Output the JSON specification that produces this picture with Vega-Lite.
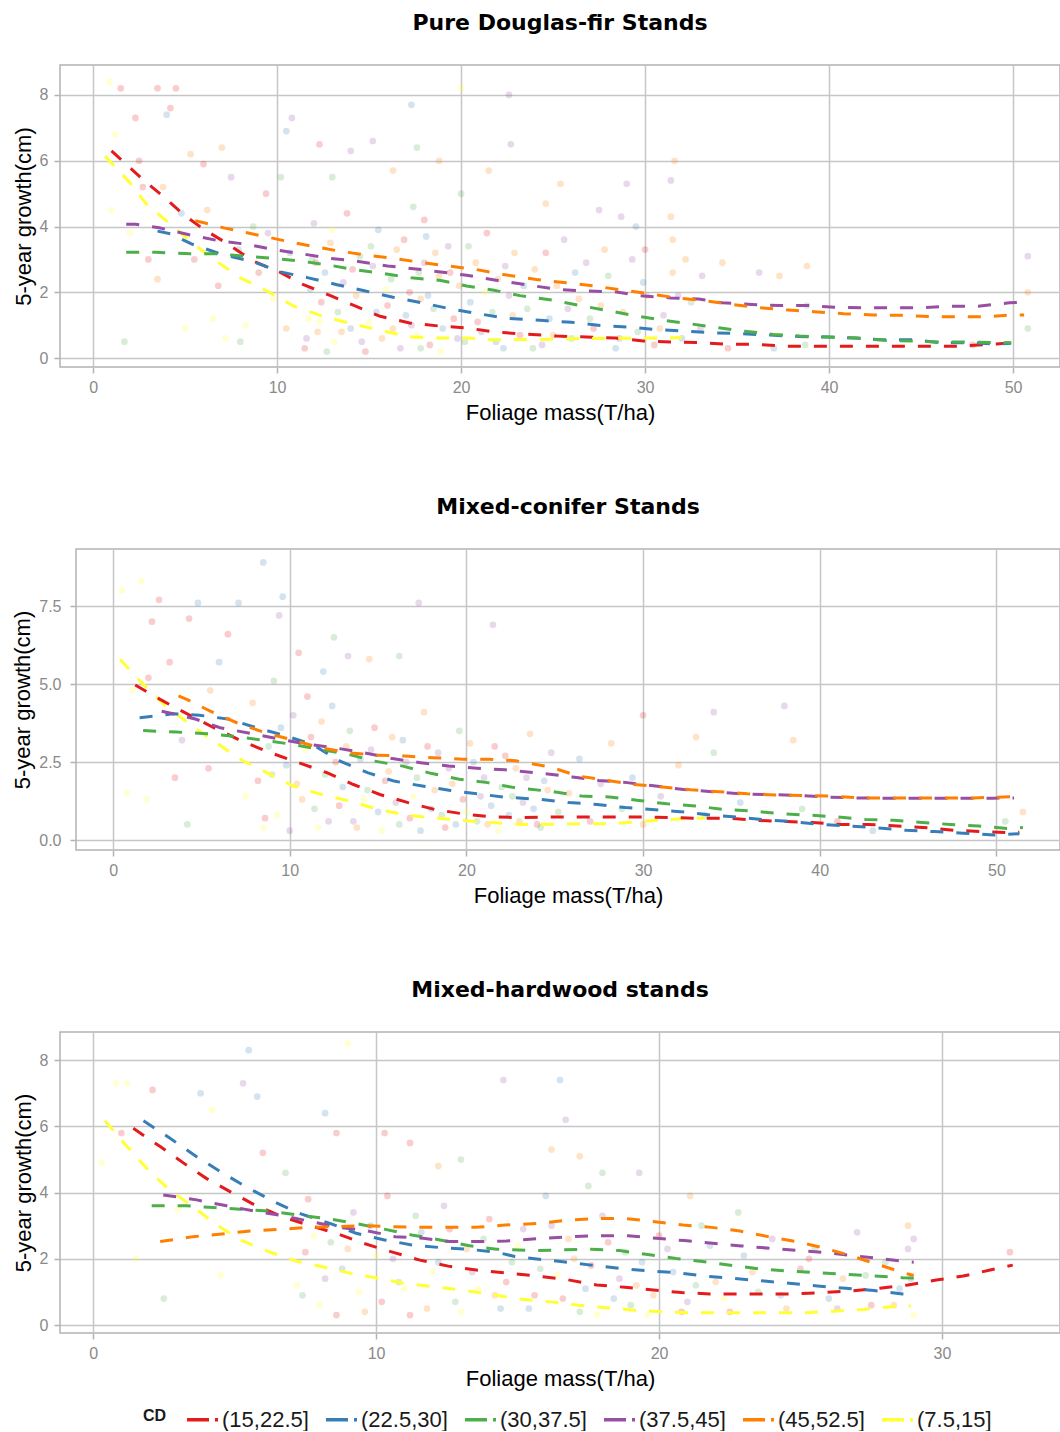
{
  "$schema": "https://vega.github.io/schema/vega-lite/v6.json",
  "padding": {"left": 10, "top": 11, "right": 0, "bottom": 0},
  "background": "white",
  "spacing": 71,
  "config": {
    "font": "Liberation Sans",
    "view": {"stroke": "#b3b3b3", "strokeWidth": 1.5},
    "axis": {
      "grid": true, "gridColor": "#c6c6c6", "gridWidth": 1.5, "domain": false,
      "tickColor": "#b3b3b3", "tickSize": 6, "tickWidth": 1.5,
      "labelColor": "#8a8a8a", "labelFontSize": 16, "labelPadding": 6, "labelFont": "Liberation Sans",
      "titleColor": "#000000", "titleFontSize": 22, "titleFontWeight": "normal", "titlePadding": 4, "titleFont": "Liberation Sans"
    },
    "axisX": {"titlePadding": 7},
    "title": {"font": "DejaVu Sans", "fontSize": 22, "fontWeight": "bold", "anchor": "middle", "frame": "group", "offset": 30, "baseline": "alphabetic", "color": "#000000"}
  },
  "resolve": {"scale": {"color": "shared"}, "legend": {"color": "shared"}},
  "datasets": {
    "S": [{"t": ""}],
    "L": [
      {"p":1,"c":"(15,22.5]","x":1.0,"y":6.3},{"p":1,"c":"(15,22.5]","x":2.6,"y":5.48},{"p":1,"c":"(15,22.5]","x":3.8,"y":4.92},{"p":1,"c":"(15,22.5]","x":4.9,"y":4.37},{"p":1,"c":"(15,22.5]","x":6.0,"y":3.92},{"p":1,"c":"(15,22.5]","x":7.35,"y":3.46},{"p":1,"c":"(15,22.5]","x":8.7,"y":2.95},{"p":1,"c":"(15,22.5]","x":10.2,"y":2.6},{"p":1,"c":"(15,22.5]","x":11.4,"y":2.24},{"p":1,"c":"(15,22.5]","x":12.9,"y":1.9},{"p":1,"c":"(15,22.5]","x":14.3,"y":1.57},{"p":1,"c":"(15,22.5]","x":15.6,"y":1.27},{"p":1,"c":"(15,22.5]","x":17.2,"y":1.07},{"p":1,"c":"(15,22.5]","x":18.9,"y":0.97},{"p":1,"c":"(15,22.5]","x":20.3,"y":0.92},{"p":1,"c":"(15,22.5]","x":21.7,"y":0.8},{"p":1,"c":"(15,22.5]","x":23.2,"y":0.74},{"p":1,"c":"(15,22.5]","x":25.2,"y":0.67},{"p":1,"c":"(15,22.5]","x":26.8,"y":0.64},{"p":1,"c":"(15,22.5]","x":28.4,"y":0.61},{"p":1,"c":"(15,22.5]","x":29.9,"y":0.52},{"p":1,"c":"(15,22.5]","x":31.4,"y":0.49},{"p":1,"c":"(15,22.5]","x":33.0,"y":0.47},{"p":1,"c":"(15,22.5]","x":34.5,"y":0.42},{"p":1,"c":"(15,22.5]","x":36.1,"y":0.42},{"p":1,"c":"(15,22.5]","x":37.6,"y":0.36},{"p":1,"c":"(15,22.5]","x":40.7,"y":0.36},{"p":1,"c":"(15,22.5]","x":45.4,"y":0.36},{"p":1,"c":"(15,22.5]","x":47.0,"y":0.36},{"p":1,"c":"(15,22.5]","x":49.1,"y":0.43},{"p":1,"c":"(15,22.5]","x":49.9,"y":0.47},
      {"p":1,"c":"(7.5,15]","x":0.65,"y":6.14},{"p":1,"c":"(7.5,15]","x":2.0,"y":5.33},{"p":1,"c":"(7.5,15]","x":2.9,"y":4.68},{"p":1,"c":"(7.5,15]","x":4.2,"y":4.07},{"p":1,"c":"(7.5,15]","x":5.45,"y":3.47},{"p":1,"c":"(7.5,15]","x":6.7,"y":2.95},{"p":1,"c":"(7.5,15]","x":8.0,"y":2.44},{"p":1,"c":"(7.5,15]","x":9.45,"y":2.04},{"p":1,"c":"(7.5,15]","x":10.9,"y":1.58},{"p":1,"c":"(7.5,15]","x":12.5,"y":1.27},{"p":1,"c":"(7.5,15]","x":14.1,"y":1.04},{"p":1,"c":"(7.5,15]","x":15.6,"y":0.85},{"p":1,"c":"(7.5,15]","x":17.2,"y":0.64},{"p":1,"c":"(7.5,15]","x":18.9,"y":0.61},{"p":1,"c":"(7.5,15]","x":20.3,"y":0.61},{"p":1,"c":"(7.5,15]","x":21.7,"y":0.56},{"p":1,"c":"(7.5,15]","x":24.8,"y":0.57},{"p":1,"c":"(7.5,15]","x":26.8,"y":0.6},{"p":1,"c":"(7.5,15]","x":28.4,"y":0.6},{"p":1,"c":"(7.5,15]","x":31.4,"y":0.62},{"p":1,"c":"(7.5,15]","x":32.0,"y":0.62},
      {"p":1,"c":"(37.5,45]","x":1.8,"y":4.07},{"p":1,"c":"(37.5,45]","x":2.3,"y":4.07},{"p":1,"c":"(37.5,45]","x":3.6,"y":3.96},{"p":1,"c":"(37.5,45]","x":5.3,"y":3.74},{"p":1,"c":"(37.5,45]","x":6.9,"y":3.56},{"p":1,"c":"(37.5,45]","x":8.35,"y":3.46},{"p":1,"c":"(37.5,45]","x":9.8,"y":3.3},{"p":1,"c":"(37.5,45]","x":11.25,"y":3.18},{"p":1,"c":"(37.5,45]","x":12.9,"y":3.03},{"p":1,"c":"(37.5,45]","x":14.3,"y":2.95},{"p":1,"c":"(37.5,45]","x":16.0,"y":2.8},{"p":1,"c":"(37.5,45]","x":17.4,"y":2.72},{"p":1,"c":"(37.5,45]","x":18.9,"y":2.62},{"p":1,"c":"(37.5,45]","x":20.3,"y":2.52},{"p":1,"c":"(37.5,45]","x":21.9,"y":2.37},{"p":1,"c":"(37.5,45]","x":23.2,"y":2.26},{"p":1,"c":"(37.5,45]","x":25.2,"y":2.09},{"p":1,"c":"(37.5,45]","x":26.8,"y":2.04},{"p":1,"c":"(37.5,45]","x":28.3,"y":2.02},{"p":1,"c":"(37.5,45]","x":29.7,"y":1.9},{"p":1,"c":"(37.5,45]","x":31.4,"y":1.83},{"p":1,"c":"(37.5,45]","x":32.9,"y":1.8},{"p":1,"c":"(37.5,45]","x":34.2,"y":1.68},{"p":1,"c":"(37.5,45]","x":35.8,"y":1.63},{"p":1,"c":"(37.5,45]","x":37.3,"y":1.6},{"p":1,"c":"(37.5,45]","x":38.8,"y":1.6},{"p":1,"c":"(37.5,45]","x":40.3,"y":1.55},{"p":1,"c":"(37.5,45]","x":41.9,"y":1.53},{"p":1,"c":"(37.5,45]","x":44.9,"y":1.53},{"p":1,"c":"(37.5,45]","x":46.6,"y":1.58},{"p":1,"c":"(37.5,45]","x":48.1,"y":1.58},{"p":1,"c":"(37.5,45]","x":49.8,"y":1.68},{"p":1,"c":"(37.5,45]","x":50.6,"y":1.7},
      {"p":1,"c":"(45,52.5]","x":5.55,"y":4.18},{"p":1,"c":"(45,52.5]","x":7.1,"y":3.96},{"p":1,"c":"(45,52.5]","x":8.8,"y":3.76},{"p":1,"c":"(45,52.5]","x":10.3,"y":3.58},{"p":1,"c":"(45,52.5]","x":11.9,"y":3.4},{"p":1,"c":"(45,52.5]","x":13.4,"y":3.25},{"p":1,"c":"(45,52.5]","x":14.9,"y":3.13},{"p":1,"c":"(45,52.5]","x":16.4,"y":3.03},{"p":1,"c":"(45,52.5]","x":17.9,"y":2.9},{"p":1,"c":"(45,52.5]","x":19.3,"y":2.8},{"p":1,"c":"(45,52.5]","x":20.85,"y":2.69},{"p":1,"c":"(45,52.5]","x":22.3,"y":2.54},{"p":1,"c":"(45,52.5]","x":24.1,"y":2.39},{"p":1,"c":"(45,52.5]","x":25.7,"y":2.29},{"p":1,"c":"(45,52.5]","x":27.3,"y":2.19},{"p":1,"c":"(45,52.5]","x":28.7,"y":2.07},{"p":1,"c":"(45,52.5]","x":30.2,"y":1.96},{"p":1,"c":"(45,52.5]","x":31.7,"y":1.83},{"p":1,"c":"(45,52.5]","x":33.2,"y":1.75},{"p":1,"c":"(45,52.5]","x":34.7,"y":1.63},{"p":1,"c":"(45,52.5]","x":36.25,"y":1.53},{"p":1,"c":"(45,52.5]","x":37.8,"y":1.46},{"p":1,"c":"(45,52.5]","x":39.2,"y":1.41},{"p":1,"c":"(45,52.5]","x":40.8,"y":1.35},{"p":1,"c":"(45,52.5]","x":42.4,"y":1.31},{"p":1,"c":"(45,52.5]","x":43.9,"y":1.3},{"p":1,"c":"(45,52.5]","x":45.5,"y":1.26},{"p":1,"c":"(45,52.5]","x":48.6,"y":1.26},{"p":1,"c":"(45,52.5]","x":49.9,"y":1.31},{"p":1,"c":"(45,52.5]","x":50.6,"y":1.31},
      {"p":1,"c":"(22.5,30]","x":3.5,"y":3.86},{"p":1,"c":"(22.5,30]","x":4.2,"y":3.78},{"p":1,"c":"(22.5,30]","x":5.4,"y":3.46},{"p":1,"c":"(22.5,30]","x":6.9,"y":3.17},{"p":1,"c":"(22.5,30]","x":8.7,"y":2.93},{"p":1,"c":"(22.5,30]","x":10.2,"y":2.62},{"p":1,"c":"(22.5,30]","x":11.7,"y":2.44},{"p":1,"c":"(22.5,30]","x":13.2,"y":2.24},{"p":1,"c":"(22.5,30]","x":14.8,"y":2.04},{"p":1,"c":"(22.5,30]","x":16.3,"y":1.85},{"p":1,"c":"(22.5,30]","x":17.9,"y":1.68},{"p":1,"c":"(22.5,30]","x":19.3,"y":1.51},{"p":1,"c":"(22.5,30]","x":20.85,"y":1.36},{"p":1,"c":"(22.5,30]","x":22.3,"y":1.22},{"p":1,"c":"(22.5,30]","x":24.5,"y":1.14},{"p":1,"c":"(22.5,30]","x":26.0,"y":1.09},{"p":1,"c":"(22.5,30]","x":27.55,"y":0.99},{"p":1,"c":"(22.5,30]","x":29.2,"y":0.94},{"p":1,"c":"(22.5,30]","x":30.6,"y":0.87},{"p":1,"c":"(22.5,30]","x":32.2,"y":0.82},{"p":1,"c":"(22.5,30]","x":33.7,"y":0.77},{"p":1,"c":"(22.5,30]","x":35.25,"y":0.74},{"p":1,"c":"(22.5,30]","x":36.8,"y":0.7},{"p":1,"c":"(22.5,30]","x":38.3,"y":0.66},{"p":1,"c":"(22.5,30]","x":39.9,"y":0.64},{"p":1,"c":"(22.5,30]","x":41.4,"y":0.61},{"p":1,"c":"(22.5,30]","x":42.9,"y":0.56},{"p":1,"c":"(22.5,30]","x":44.5,"y":0.56},{"p":1,"c":"(22.5,30]","x":46.0,"y":0.47},{"p":1,"c":"(22.5,30]","x":47.6,"y":0.47},{"p":1,"c":"(22.5,30]","x":49.1,"y":0.43},{"p":1,"c":"(22.5,30]","x":49.9,"y":0.45},
      {"p":1,"c":"(30,37.5]","x":1.8,"y":3.22},{"p":1,"c":"(30,37.5]","x":3.4,"y":3.22},{"p":1,"c":"(30,37.5]","x":5.3,"y":3.17},{"p":1,"c":"(30,37.5]","x":6.7,"y":3.17},{"p":1,"c":"(30,37.5]","x":8.2,"y":3.1},{"p":1,"c":"(30,37.5]","x":9.8,"y":3.03},{"p":1,"c":"(30,37.5]","x":11.25,"y":2.95},{"p":1,"c":"(30,37.5]","x":12.8,"y":2.83},{"p":1,"c":"(30,37.5]","x":14.3,"y":2.68},{"p":1,"c":"(30,37.5]","x":15.8,"y":2.57},{"p":1,"c":"(30,37.5]","x":17.3,"y":2.44},{"p":1,"c":"(30,37.5]","x":18.9,"y":2.36},{"p":1,"c":"(30,37.5]","x":20.3,"y":2.19},{"p":1,"c":"(30,37.5]","x":21.8,"y":2.06},{"p":1,"c":"(30,37.5]","x":23.2,"y":1.9},{"p":1,"c":"(30,37.5]","x":25.1,"y":1.75},{"p":1,"c":"(30,37.5]","x":26.65,"y":1.58},{"p":1,"c":"(30,37.5]","x":28.1,"y":1.43},{"p":1,"c":"(30,37.5]","x":29.55,"y":1.28},{"p":1,"c":"(30,37.5]","x":31.1,"y":1.14},{"p":1,"c":"(30,37.5]","x":32.5,"y":1.04},{"p":1,"c":"(30,37.5]","x":34.0,"y":0.92},{"p":1,"c":"(30,37.5]","x":35.4,"y":0.82},{"p":1,"c":"(30,37.5]","x":36.95,"y":0.72},{"p":1,"c":"(30,37.5]","x":38.4,"y":0.67},{"p":1,"c":"(30,37.5]","x":40.0,"y":0.64},{"p":1,"c":"(30,37.5]","x":41.5,"y":0.61},{"p":1,"c":"(30,37.5]","x":43.0,"y":0.54},{"p":1,"c":"(30,37.5]","x":44.6,"y":0.52},{"p":1,"c":"(30,37.5]","x":46.1,"y":0.49},{"p":1,"c":"(30,37.5]","x":47.7,"y":0.49},{"p":1,"c":"(30,37.5]","x":49.3,"y":0.47},{"p":1,"c":"(30,37.5]","x":49.9,"y":0.47},

      {"p":2,"c":"(7.5,15]","x":0.4,"y":5.79},{"p":2,"c":"(7.5,15]","x":1.7,"y":4.99},{"p":2,"c":"(7.5,15]","x":3.0,"y":4.29},{"p":2,"c":"(7.5,15]","x":4.36,"y":3.71},{"p":2,"c":"(7.5,15]","x":5.7,"y":3.17},{"p":2,"c":"(7.5,15]","x":7.2,"y":2.59},{"p":2,"c":"(7.5,15]","x":8.7,"y":2.16},{"p":2,"c":"(7.5,15]","x":10.2,"y":1.73},{"p":2,"c":"(7.5,15]","x":11.8,"y":1.46},{"p":2,"c":"(7.5,15]","x":13.4,"y":1.25},{"p":2,"c":"(7.5,15]","x":15.0,"y":0.98},{"p":2,"c":"(7.5,15]","x":16.6,"y":0.8},{"p":2,"c":"(7.5,15]","x":18.3,"y":0.7},{"p":2,"c":"(7.5,15]","x":19.8,"y":0.63},{"p":2,"c":"(7.5,15]","x":21.4,"y":0.56},{"p":2,"c":"(7.5,15]","x":23.0,"y":0.5},{"p":2,"c":"(7.5,15]","x":24.0,"y":0.5},{"p":2,"c":"(7.5,15]","x":26.6,"y":0.52},{"p":2,"c":"(7.5,15]","x":28.2,"y":0.52},{"p":2,"c":"(7.5,15]","x":29.8,"y":0.59},{"p":2,"c":"(7.5,15]","x":31.5,"y":0.66},{"p":2,"c":"(7.5,15]","x":33.05,"y":0.7},{"p":2,"c":"(7.5,15]","x":33.5,"y":0.7},
      {"p":2,"c":"(15,22.5]","x":1.25,"y":4.97},{"p":2,"c":"(15,22.5]","x":2.66,"y":4.51},{"p":2,"c":"(15,22.5]","x":4.17,"y":4.05},{"p":2,"c":"(15,22.5]","x":5.7,"y":3.6},{"p":2,"c":"(15,22.5]","x":7.3,"y":3.17},{"p":2,"c":"(15,22.5]","x":8.9,"y":2.8},{"p":2,"c":"(15,22.5]","x":10.5,"y":2.48},{"p":2,"c":"(15,22.5]","x":12.1,"y":2.16},{"p":2,"c":"(15,22.5]","x":13.6,"y":1.78},{"p":2,"c":"(15,22.5]","x":15.1,"y":1.46},{"p":2,"c":"(15,22.5]","x":16.7,"y":1.2},{"p":2,"c":"(15,22.5]","x":18.2,"y":0.98},{"p":2,"c":"(15,22.5]","x":19.8,"y":0.84},{"p":2,"c":"(15,22.5]","x":21.4,"y":0.74},{"p":2,"c":"(15,22.5]","x":23.0,"y":0.72},{"p":2,"c":"(15,22.5]","x":24.75,"y":0.74},{"p":2,"c":"(15,22.5]","x":26.6,"y":0.74},{"p":2,"c":"(15,22.5]","x":28.2,"y":0.74},{"p":2,"c":"(15,22.5]","x":29.75,"y":0.74},{"p":2,"c":"(15,22.5]","x":31.4,"y":0.72},{"p":2,"c":"(15,22.5]","x":33.0,"y":0.7},{"p":2,"c":"(15,22.5]","x":34.75,"y":0.7},{"p":2,"c":"(15,22.5]","x":36.4,"y":0.63},{"p":2,"c":"(15,22.5]","x":38.15,"y":0.59},{"p":2,"c":"(15,22.5]","x":39.6,"y":0.56},{"p":2,"c":"(15,22.5]","x":41.2,"y":0.5},{"p":2,"c":"(15,22.5]","x":42.7,"y":0.5},{"p":2,"c":"(15,22.5]","x":44.4,"y":0.45},{"p":2,"c":"(15,22.5]","x":46.1,"y":0.39},{"p":2,"c":"(15,22.5]","x":47.6,"y":0.31},{"p":2,"c":"(15,22.5]","x":49.3,"y":0.27},{"p":2,"c":"(15,22.5]","x":50.8,"y":0.23},{"p":2,"c":"(15,22.5]","x":51.3,"y":0.25},
      {"p":2,"c":"(22.5,30]","x":1.5,"y":3.92},{"p":2,"c":"(22.5,30]","x":2.0,"y":3.95},{"p":2,"c":"(22.5,30]","x":3.4,"y":4.05},{"p":2,"c":"(22.5,30]","x":4.9,"y":4.0},{"p":2,"c":"(22.5,30]","x":6.6,"y":3.87},{"p":2,"c":"(22.5,30]","x":8.1,"y":3.6},{"p":2,"c":"(22.5,30]","x":9.6,"y":3.37},{"p":2,"c":"(22.5,30]","x":11.25,"y":3.07},{"p":2,"c":"(22.5,30]","x":12.85,"y":2.53},{"p":2,"c":"(22.5,30]","x":14.4,"y":2.16},{"p":2,"c":"(22.5,30]","x":15.9,"y":1.89},{"p":2,"c":"(22.5,30]","x":17.5,"y":1.73},{"p":2,"c":"(22.5,30]","x":19.1,"y":1.59},{"p":2,"c":"(22.5,30]","x":20.6,"y":1.48},{"p":2,"c":"(22.5,30]","x":22.1,"y":1.38},{"p":2,"c":"(22.5,30]","x":24.2,"y":1.3},{"p":2,"c":"(22.5,30]","x":25.8,"y":1.2},{"p":2,"c":"(22.5,30]","x":27.4,"y":1.14},{"p":2,"c":"(22.5,30]","x":29.0,"y":1.04},{"p":2,"c":"(22.5,30]","x":30.5,"y":0.98},{"p":2,"c":"(22.5,30]","x":32.1,"y":0.91},{"p":2,"c":"(22.5,30]","x":33.8,"y":0.8},{"p":2,"c":"(22.5,30]","x":35.3,"y":0.74},{"p":2,"c":"(22.5,30]","x":36.9,"y":0.65},{"p":2,"c":"(22.5,30]","x":38.5,"y":0.59},{"p":2,"c":"(22.5,30]","x":40.0,"y":0.5},{"p":2,"c":"(22.5,30]","x":41.6,"y":0.45},{"p":2,"c":"(22.5,30]","x":43.3,"y":0.39},{"p":2,"c":"(22.5,30]","x":44.9,"y":0.31},{"p":2,"c":"(22.5,30]","x":46.5,"y":0.27},{"p":2,"c":"(22.5,30]","x":48.1,"y":0.22},{"p":2,"c":"(22.5,30]","x":49.85,"y":0.16},{"p":2,"c":"(22.5,30]","x":51.3,"y":0.2},
      {"p":2,"c":"(30,37.5]","x":1.7,"y":3.51},{"p":2,"c":"(30,37.5]","x":3.6,"y":3.46},{"p":2,"c":"(30,37.5]","x":5.3,"y":3.41},{"p":2,"c":"(30,37.5]","x":6.8,"y":3.33},{"p":2,"c":"(30,37.5]","x":8.5,"y":3.2},{"p":2,"c":"(30,37.5]","x":10.1,"y":3.07},{"p":2,"c":"(30,37.5]","x":11.7,"y":2.91},{"p":2,"c":"(30,37.5]","x":13.3,"y":2.75},{"p":2,"c":"(30,37.5]","x":14.8,"y":2.53},{"p":2,"c":"(30,37.5]","x":16.4,"y":2.37},{"p":2,"c":"(30,37.5]","x":18.05,"y":2.13},{"p":2,"c":"(30,37.5]","x":19.6,"y":1.95},{"p":2,"c":"(30,37.5]","x":21.2,"y":1.84},{"p":2,"c":"(30,37.5]","x":22.6,"y":1.69},{"p":2,"c":"(30,37.5]","x":24.9,"y":1.55},{"p":2,"c":"(30,37.5]","x":26.5,"y":1.41},{"p":2,"c":"(30,37.5]","x":28.1,"y":1.38},{"p":2,"c":"(30,37.5]","x":29.75,"y":1.27},{"p":2,"c":"(30,37.5]","x":31.35,"y":1.16},{"p":2,"c":"(30,37.5]","x":32.95,"y":1.09},{"p":2,"c":"(30,37.5]","x":34.6,"y":0.98},{"p":2,"c":"(30,37.5]","x":36.2,"y":0.93},{"p":2,"c":"(30,37.5]","x":37.8,"y":0.84},{"p":2,"c":"(30,37.5]","x":39.4,"y":0.8},{"p":2,"c":"(30,37.5]","x":41.0,"y":0.74},{"p":2,"c":"(30,37.5]","x":42.6,"y":0.66},{"p":2,"c":"(30,37.5]","x":44.2,"y":0.63},{"p":2,"c":"(30,37.5]","x":45.8,"y":0.56},{"p":2,"c":"(30,37.5]","x":47.4,"y":0.5},{"p":2,"c":"(30,37.5]","x":49.0,"y":0.45},{"p":2,"c":"(30,37.5]","x":50.6,"y":0.37},{"p":2,"c":"(30,37.5]","x":51.5,"y":0.4},
      {"p":2,"c":"(37.5,45]","x":2.75,"y":4.13},{"p":2,"c":"(37.5,45]","x":3.4,"y":4.05},{"p":2,"c":"(37.5,45]","x":4.7,"y":3.87},{"p":2,"c":"(37.5,45]","x":6.06,"y":3.6},{"p":2,"c":"(37.5,45]","x":7.85,"y":3.41},{"p":2,"c":"(37.5,45]","x":9.45,"y":3.23},{"p":2,"c":"(37.5,45]","x":11.0,"y":3.07},{"p":2,"c":"(37.5,45]","x":12.7,"y":2.94},{"p":2,"c":"(37.5,45]","x":14.2,"y":2.8},{"p":2,"c":"(37.5,45]","x":15.8,"y":2.61},{"p":2,"c":"(37.5,45]","x":17.4,"y":2.48},{"p":2,"c":"(37.5,45]","x":19.0,"y":2.37},{"p":2,"c":"(37.5,45]","x":20.6,"y":2.3},{"p":2,"c":"(37.5,45]","x":22.2,"y":2.25},{"p":2,"c":"(37.5,45]","x":24.4,"y":2.13},{"p":2,"c":"(37.5,45]","x":26.0,"y":2.02},{"p":2,"c":"(37.5,45]","x":27.5,"y":1.91},{"p":2,"c":"(37.5,45]","x":29.1,"y":1.84},{"p":2,"c":"(37.5,45]","x":30.7,"y":1.73},{"p":2,"c":"(37.5,45]","x":32.3,"y":1.62},{"p":2,"c":"(37.5,45]","x":33.9,"y":1.55},{"p":2,"c":"(37.5,45]","x":35.5,"y":1.48},{"p":2,"c":"(37.5,45]","x":37.1,"y":1.46},{"p":2,"c":"(37.5,45]","x":38.7,"y":1.43},{"p":2,"c":"(37.5,45]","x":40.3,"y":1.38},{"p":2,"c":"(37.5,45]","x":41.9,"y":1.35},{"p":2,"c":"(37.5,45]","x":43.5,"y":1.34},{"p":2,"c":"(37.5,45]","x":46.6,"y":1.34},{"p":2,"c":"(37.5,45]","x":49.8,"y":1.34},{"p":2,"c":"(37.5,45]","x":51.0,"y":1.35},
      {"p":2,"c":"(45,52.5]","x":3.7,"y":4.62},{"p":2,"c":"(45,52.5]","x":4.2,"y":4.5},{"p":2,"c":"(45,52.5]","x":5.5,"y":4.13},{"p":2,"c":"(45,52.5]","x":7.0,"y":3.76},{"p":2,"c":"(45,52.5]","x":8.6,"y":3.44},{"p":2,"c":"(45,52.5]","x":10.2,"y":3.2},{"p":2,"c":"(45,52.5]","x":11.7,"y":2.96},{"p":2,"c":"(45,52.5]","x":13.3,"y":2.8},{"p":2,"c":"(45,52.5]","x":14.9,"y":2.72},{"p":2,"c":"(45,52.5]","x":16.5,"y":2.69},{"p":2,"c":"(45,52.5]","x":18.1,"y":2.64},{"p":2,"c":"(45,52.5]","x":19.8,"y":2.59},{"p":2,"c":"(45,52.5]","x":21.3,"y":2.59},{"p":2,"c":"(45,52.5]","x":22.8,"y":2.54},{"p":2,"c":"(45,52.5]","x":24.75,"y":2.34},{"p":2,"c":"(45,52.5]","x":26.35,"y":2.05},{"p":2,"c":"(45,52.5]","x":27.95,"y":1.91},{"p":2,"c":"(45,52.5]","x":29.5,"y":1.78},{"p":2,"c":"(45,52.5]","x":31.1,"y":1.7},{"p":2,"c":"(45,52.5]","x":32.7,"y":1.61},{"p":2,"c":"(45,52.5]","x":34.3,"y":1.55},{"p":2,"c":"(45,52.5]","x":35.9,"y":1.48},{"p":2,"c":"(45,52.5]","x":37.5,"y":1.44},{"p":2,"c":"(45,52.5]","x":39.1,"y":1.43},{"p":2,"c":"(45,52.5]","x":40.7,"y":1.41},{"p":2,"c":"(45,52.5]","x":42.3,"y":1.35},{"p":2,"c":"(45,52.5]","x":45.5,"y":1.35},{"p":2,"c":"(45,52.5]","x":48.7,"y":1.35},{"p":2,"c":"(45,52.5]","x":50.4,"y":1.38},{"p":2,"c":"(45,52.5]","x":51.3,"y":1.4},

      {"p":3,"c":"(7.5,15]","x":0.42,"y":6.17},{"p":3,"c":"(7.5,15]","x":1.2,"y":5.39},{"p":3,"c":"(7.5,15]","x":1.95,"y":4.68},{"p":3,"c":"(7.5,15]","x":2.7,"y":4.08},{"p":3,"c":"(7.5,15]","x":3.54,"y":3.57},{"p":3,"c":"(7.5,15]","x":4.37,"y":3.02},{"p":3,"c":"(7.5,15]","x":5.2,"y":2.57},{"p":3,"c":"(7.5,15]","x":6.2,"y":2.22},{"p":3,"c":"(7.5,15]","x":7.14,"y":1.94},{"p":3,"c":"(7.5,15]","x":8.1,"y":1.76},{"p":3,"c":"(7.5,15]","x":9.1,"y":1.56},{"p":3,"c":"(7.5,15]","x":10.1,"y":1.41},{"p":3,"c":"(7.5,15]","x":11.0,"y":1.26},{"p":3,"c":"(7.5,15]","x":12.0,"y":1.16},{"p":3,"c":"(7.5,15]","x":13.0,"y":1.06},{"p":3,"c":"(7.5,15]","x":14.0,"y":0.94},{"p":3,"c":"(7.5,15]","x":14.9,"y":0.8},{"p":3,"c":"(7.5,15]","x":16.15,"y":0.7},{"p":3,"c":"(7.5,15]","x":17.15,"y":0.6},{"p":3,"c":"(7.5,15]","x":18.15,"y":0.52},{"p":3,"c":"(7.5,15]","x":19.15,"y":0.45},{"p":3,"c":"(7.5,15]","x":20.15,"y":0.4},{"p":3,"c":"(7.5,15]","x":21.15,"y":0.37},{"p":3,"c":"(7.5,15]","x":23.2,"y":0.37},{"p":3,"c":"(7.5,15]","x":25.2,"y":0.37},{"p":3,"c":"(7.5,15]","x":26.2,"y":0.42},{"p":3,"c":"(7.5,15]","x":27.2,"y":0.47},{"p":3,"c":"(7.5,15]","x":28.2,"y":0.55},{"p":3,"c":"(7.5,15]","x":28.9,"y":0.58},
      {"p":3,"c":"(15,22.5]","x":1.42,"y":5.94},{"p":3,"c":"(15,22.5]","x":2.37,"y":5.39},{"p":3,"c":"(15,22.5]","x":3.2,"y":4.89},{"p":3,"c":"(15,22.5]","x":4.0,"y":4.43},{"p":3,"c":"(15,22.5]","x":4.84,"y":4.03},{"p":3,"c":"(15,22.5]","x":5.7,"y":3.63},{"p":3,"c":"(15,22.5]","x":6.7,"y":3.27},{"p":3,"c":"(15,22.5]","x":7.6,"y":3.02},{"p":3,"c":"(15,22.5]","x":8.6,"y":2.77},{"p":3,"c":"(15,22.5]","x":9.55,"y":2.47},{"p":3,"c":"(15,22.5]","x":10.55,"y":2.21},{"p":3,"c":"(15,22.5]","x":11.55,"y":1.96},{"p":3,"c":"(15,22.5]","x":12.55,"y":1.78},{"p":3,"c":"(15,22.5]","x":13.55,"y":1.66},{"p":3,"c":"(15,22.5]","x":14.55,"y":1.58},{"p":3,"c":"(15,22.5]","x":15.9,"y":1.46},{"p":3,"c":"(15,22.5]","x":16.7,"y":1.38},{"p":3,"c":"(15,22.5]","x":17.8,"y":1.21},{"p":3,"c":"(15,22.5]","x":18.8,"y":1.14},{"p":3,"c":"(15,22.5]","x":19.8,"y":1.06},{"p":3,"c":"(15,22.5]","x":20.8,"y":0.98},{"p":3,"c":"(15,22.5]","x":21.8,"y":0.94},{"p":3,"c":"(15,22.5]","x":24.8,"y":0.94},{"p":3,"c":"(15,22.5]","x":25.8,"y":0.98},{"p":3,"c":"(15,22.5]","x":26.8,"y":1.03},{"p":3,"c":"(15,22.5]","x":27.8,"y":1.11},{"p":3,"c":"(15,22.5]","x":28.8,"y":1.21},{"p":3,"c":"(15,22.5]","x":29.8,"y":1.36},{"p":3,"c":"(15,22.5]","x":30.75,"y":1.48},{"p":3,"c":"(15,22.5]","x":31.7,"y":1.66},{"p":3,"c":"(15,22.5]","x":32.5,"y":1.81},
      {"p":3,"c":"(22.5,30]","x":1.78,"y":6.17},{"p":3,"c":"(22.5,30]","x":2.72,"y":5.64},{"p":3,"c":"(22.5,30]","x":3.66,"y":5.08},{"p":3,"c":"(22.5,30]","x":4.6,"y":4.58},{"p":3,"c":"(22.5,30]","x":5.5,"y":4.13},{"p":3,"c":"(22.5,30]","x":6.5,"y":3.68},{"p":3,"c":"(22.5,30]","x":7.37,"y":3.35},{"p":3,"c":"(22.5,30]","x":8.37,"y":3.07},{"p":3,"c":"(22.5,30]","x":9.3,"y":2.77},{"p":3,"c":"(22.5,30]","x":10.3,"y":2.57},{"p":3,"c":"(22.5,30]","x":11.26,"y":2.42},{"p":3,"c":"(22.5,30]","x":12.26,"y":2.34},{"p":3,"c":"(22.5,30]","x":13.26,"y":2.29},{"p":3,"c":"(22.5,30]","x":14.26,"y":2.2},{"p":3,"c":"(22.5,30]","x":14.9,"y":2.07},{"p":3,"c":"(22.5,30]","x":16.6,"y":1.91},{"p":3,"c":"(22.5,30]","x":17.6,"y":1.81},{"p":3,"c":"(22.5,30]","x":18.6,"y":1.71},{"p":3,"c":"(22.5,30]","x":19.6,"y":1.64},{"p":3,"c":"(22.5,30]","x":20.6,"y":1.58},{"p":3,"c":"(22.5,30]","x":21.6,"y":1.48},{"p":3,"c":"(22.5,30]","x":22.6,"y":1.41},{"p":3,"c":"(22.5,30]","x":23.6,"y":1.34},{"p":3,"c":"(22.5,30]","x":24.6,"y":1.26},{"p":3,"c":"(22.5,30]","x":25.6,"y":1.18},{"p":3,"c":"(22.5,30]","x":26.6,"y":1.11},{"p":3,"c":"(22.5,30]","x":27.6,"y":1.04},{"p":3,"c":"(22.5,30]","x":28.6,"y":0.94},{"p":3,"c":"(22.5,30]","x":29.0,"y":0.92},
      {"p":3,"c":"(30,37.5]","x":2.07,"y":3.6},{"p":3,"c":"(30,37.5]","x":3.3,"y":3.6},{"p":3,"c":"(30,37.5]","x":4.25,"y":3.55},{"p":3,"c":"(30,37.5]","x":5.2,"y":3.5},{"p":3,"c":"(30,37.5]","x":6.25,"y":3.44},{"p":3,"c":"(30,37.5]","x":7.25,"y":3.32},{"p":3,"c":"(30,37.5]","x":8.26,"y":3.22},{"p":3,"c":"(30,37.5]","x":9.26,"y":3.07},{"p":3,"c":"(30,37.5]","x":10.26,"y":2.9},{"p":3,"c":"(30,37.5]","x":11.26,"y":2.72},{"p":3,"c":"(30,37.5]","x":12.26,"y":2.57},{"p":3,"c":"(30,37.5]","x":13.26,"y":2.4},{"p":3,"c":"(30,37.5]","x":14.26,"y":2.29},{"p":3,"c":"(30,37.5]","x":15.6,"y":2.25},{"p":3,"c":"(30,37.5]","x":16.6,"y":2.27},{"p":3,"c":"(30,37.5]","x":17.6,"y":2.29},{"p":3,"c":"(30,37.5]","x":18.6,"y":2.25},{"p":3,"c":"(30,37.5]","x":19.6,"y":2.13},{"p":3,"c":"(30,37.5]","x":20.6,"y":2.01},{"p":3,"c":"(30,37.5]","x":21.6,"y":1.91},{"p":3,"c":"(30,37.5]","x":22.6,"y":1.8},{"p":3,"c":"(30,37.5]","x":23.6,"y":1.69},{"p":3,"c":"(30,37.5]","x":24.6,"y":1.63},{"p":3,"c":"(30,37.5]","x":25.6,"y":1.58},{"p":3,"c":"(30,37.5]","x":26.6,"y":1.53},{"p":3,"c":"(30,37.5]","x":27.6,"y":1.48},{"p":3,"c":"(30,37.5]","x":28.6,"y":1.43},{"p":3,"c":"(30,37.5]","x":29.0,"y":1.42},
      {"p":3,"c":"(37.5,45]","x":2.48,"y":3.93},{"p":3,"c":"(37.5,45]","x":3.66,"y":3.78},{"p":3,"c":"(37.5,45]","x":4.72,"y":3.6},{"p":3,"c":"(37.5,45]","x":5.72,"y":3.44},{"p":3,"c":"(37.5,45]","x":6.72,"y":3.3},{"p":3,"c":"(37.5,45]","x":7.73,"y":3.12},{"p":3,"c":"(37.5,45]","x":8.67,"y":2.95},{"p":3,"c":"(37.5,45]","x":9.67,"y":2.85},{"p":3,"c":"(37.5,45]","x":10.67,"y":2.67},{"p":3,"c":"(37.5,45]","x":11.67,"y":2.62},{"p":3,"c":"(37.5,45]","x":12.6,"y":2.52},{"p":3,"c":"(37.5,45]","x":13.67,"y":2.52},{"p":3,"c":"(37.5,45]","x":14.6,"y":2.54},{"p":3,"c":"(37.5,45]","x":15.9,"y":2.62},{"p":3,"c":"(37.5,45]","x":16.9,"y":2.67},{"p":3,"c":"(37.5,45]","x":17.9,"y":2.7},{"p":3,"c":"(37.5,45]","x":18.9,"y":2.7},{"p":3,"c":"(37.5,45]","x":19.9,"y":2.62},{"p":3,"c":"(37.5,45]","x":20.9,"y":2.55},{"p":3,"c":"(37.5,45]","x":21.9,"y":2.47},{"p":3,"c":"(37.5,45]","x":22.9,"y":2.39},{"p":3,"c":"(37.5,45]","x":23.9,"y":2.32},{"p":3,"c":"(37.5,45]","x":24.9,"y":2.25},{"p":3,"c":"(37.5,45]","x":25.9,"y":2.19},{"p":3,"c":"(37.5,45]","x":26.9,"y":2.09},{"p":3,"c":"(37.5,45]","x":27.8,"y":2.01},{"p":3,"c":"(37.5,45]","x":28.8,"y":1.91},{"p":3,"c":"(37.5,45]","x":29.0,"y":1.9},
      {"p":3,"c":"(45,52.5]","x":2.37,"y":2.52},{"p":3,"c":"(45,52.5]","x":3.54,"y":2.67},{"p":3,"c":"(45,52.5]","x":4.55,"y":2.75},{"p":3,"c":"(45,52.5]","x":5.55,"y":2.84},{"p":3,"c":"(45,52.5]","x":6.6,"y":2.89},{"p":3,"c":"(45,52.5]","x":7.55,"y":2.95},{"p":3,"c":"(45,52.5]","x":8.55,"y":2.97},{"p":3,"c":"(45,52.5]","x":9.6,"y":3.0},{"p":3,"c":"(45,52.5]","x":10.6,"y":2.97},{"p":3,"c":"(45,52.5]","x":11.6,"y":2.95},{"p":3,"c":"(45,52.5]","x":13.5,"y":2.95},{"p":3,"c":"(45,52.5]","x":14.56,"y":3.02},{"p":3,"c":"(45,52.5]","x":15.8,"y":3.07},{"p":3,"c":"(45,52.5]","x":16.8,"y":3.17},{"p":3,"c":"(45,52.5]","x":17.8,"y":3.22},{"p":3,"c":"(45,52.5]","x":18.8,"y":3.22},{"p":3,"c":"(45,52.5]","x":19.85,"y":3.12},{"p":3,"c":"(45,52.5]","x":20.85,"y":3.02},{"p":3,"c":"(45,52.5]","x":21.86,"y":2.95},{"p":3,"c":"(45,52.5]","x":22.86,"y":2.84},{"p":3,"c":"(45,52.5]","x":23.86,"y":2.67},{"p":3,"c":"(45,52.5]","x":24.86,"y":2.52},{"p":3,"c":"(45,52.5]","x":25.86,"y":2.32},{"p":3,"c":"(45,52.5]","x":26.8,"y":2.09},{"p":3,"c":"(45,52.5]","x":27.8,"y":1.81},{"p":3,"c":"(45,52.5]","x":28.8,"y":1.54},{"p":3,"c":"(45,52.5]","x":29.0,"y":1.5}
    ],
    "P": [
      {"p":1,"c":"(7.5,15]","x":0.9,"y":8.4},{"p":1,"c":"(15,22.5]","x":1.5,"y":8.2},{"p":1,"c":"(15,22.5]","x":2.3,"y":7.3},{"p":1,"c":"(15,22.5]","x":3.5,"y":8.2},{"p":1,"c":"(15,22.5]","x":4.5,"y":8.2},{"p":1,"c":"(15,22.5]","x":4.2,"y":7.6},{"p":1,"c":"(22.5,30]","x":4.0,"y":7.4},{"p":1,"c":"(45,52.5]","x":5.3,"y":6.2},{"p":1,"c":"(15,22.5]","x":6.0,"y":5.9},{"p":1,"c":"(45,52.5]","x":7.0,"y":6.4},{"p":1,"c":"(15,22.5]","x":2.7,"y":5.2},{"p":1,"c":"(7.5,15]","x":1.0,"y":4.5},{"p":1,"c":"(15,22.5]","x":3.0,"y":3.0},{"p":1,"c":"(45,52.5]","x":3.5,"y":2.4},{"p":1,"c":"(30,37.5]","x":1.7,"y":0.5},{"p":1,"c":"(7.5,15]","x":5.0,"y":0.9},{"p":1,"c":"(30,37.5]","x":8.0,"y":0.5},{"p":1,"c":"(22.5,30]","x":10.5,"y":6.9},{"p":1,"c":"(37.5,45]","x":10.8,"y":7.3},{"p":1,"c":"(15,22.5]","x":9.4,"y":5.0},{"p":1,"c":"(15,22.5]","x":12.3,"y":6.5},{"p":1,"c":"(37.5,45]","x":14.0,"y":6.3},{"p":1,"c":"(30,37.5]","x":17.6,"y":6.4},{"p":1,"c":"(45,52.5]","x":18.8,"y":6.0},{"p":1,"c":"(22.5,30]","x":17.3,"y":7.7},{"p":1,"c":"(37.5,45]","x":15.2,"y":6.6},{"p":1,"c":"(45,52.5]","x":16.3,"y":5.7},{"p":1,"c":"(30,37.5]","x":13.0,"y":5.5},{"p":1,"c":"(37.5,45]","x":22.6,"y":8.0},{"p":1,"c":"(37.5,45]","x":22.7,"y":6.5},{"p":1,"c":"(45,52.5]","x":21.5,"y":5.7},{"p":1,"c":"(30,37.5]","x":20.0,"y":5.0},{"p":1,"c":"(7.5,15]","x":20.0,"y":8.2},{"p":1,"c":"(45,52.5]","x":25.4,"y":5.3},{"p":1,"c":"(37.5,45]","x":27.5,"y":4.5},{"p":1,"c":"(45,52.5]","x":24.6,"y":4.7},{"p":1,"c":"(37.5,45]","x":28.7,"y":4.3},{"p":1,"c":"(45,52.5]","x":31.6,"y":6.0},{"p":1,"c":"(37.5,45]","x":29.0,"y":5.3},{"p":1,"c":"(37.5,45]","x":31.4,"y":5.4},{"p":1,"c":"(45,52.5]","x":31.4,"y":4.3},{"p":1,"c":"(15,22.5]","x":30.0,"y":3.3},{"p":1,"c":"(45,52.5]","x":32.2,"y":3.0},{"p":1,"c":"(37.5,45]","x":33.1,"y":2.5},{"p":1,"c":"(45,52.5]","x":34.2,"y":2.9},{"p":1,"c":"(37.5,45]","x":36.2,"y":2.6},{"p":1,"c":"(45,52.5]","x":37.3,"y":2.5},{"p":1,"c":"(45,52.5]","x":38.8,"y":2.8},{"p":1,"c":"(30,37.5]","x":38.8,"y":1.6},{"p":1,"c":"(30,37.5]","x":38.7,"y":0.4},{"p":1,"c":"(22.5,30]","x":37.0,"y":0.3},{"p":1,"c":"(15,22.5]","x":34.5,"y":0.3},{"p":1,"c":"(37.5,45]","x":50.8,"y":3.1},{"p":1,"c":"(45,52.5]","x":50.8,"y":2.0},{"p":1,"c":"(30,37.5]","x":50.8,"y":0.9},{"p":1,"c":"(15,22.5]","x":47.8,"y":0.4},
      {"p":1,"c":"(15,22.5]","x":11.5,"y":0.3},{"p":1,"c":"(7.5,15]","x":11.7,"y":1.2},{"p":1,"c":"(22.5,30]","x":11.8,"y":2.1},{"p":1,"c":"(30,37.5]","x":11.9,"y":3.0},{"p":1,"c":"(37.5,45]","x":12.0,"y":4.1},{"p":1,"c":"(45,52.5]","x":12.2,"y":0.8},{"p":1,"c":"(15,22.5]","x":12.4,"y":1.7},{"p":1,"c":"(22.5,30]","x":12.6,"y":2.6},{"p":1,"c":"(45,52.5]","x":12.9,"y":3.5},{"p":1,"c":"(7.5,15]","x":13.1,"y":0.5},{"p":1,"c":"(30,37.5]","x":13.3,"y":1.4},{"p":1,"c":"(37.5,45]","x":13.6,"y":2.3},{"p":1,"c":"(15,22.5]","x":13.8,"y":4.4},{"p":1,"c":"(22.5,30]","x":14.0,"y":0.9},{"p":1,"c":"(45,52.5]","x":14.3,"y":1.9},{"p":1,"c":"(30,37.5]","x":14.5,"y":3.1},{"p":1,"c":"(15,22.5]","x":14.8,"y":0.2},{"p":1,"c":"(7.5,15]","x":15.0,"y":1.1},{"p":1,"c":"(37.5,45]","x":15.2,"y":2.8},{"p":1,"c":"(22.5,30]","x":15.5,"y":3.9},{"p":1,"c":"(45,52.5]","x":15.7,"y":0.6},{"p":1,"c":"(15,22.5]","x":16.0,"y":1.6},{"p":1,"c":"(30,37.5]","x":16.2,"y":2.4},{"p":1,"c":"(45,52.5]","x":16.5,"y":3.3},{"p":1,"c":"(37.5,45]","x":16.7,"y":0.3},{"p":1,"c":"(22.5,30]","x":17.0,"y":1.3},{"p":1,"c":"(15,22.5]","x":17.2,"y":2.0},{"p":1,"c":"(30,37.5]","x":17.4,"y":4.6},{"p":1,"c":"(7.5,15]","x":17.6,"y":0.7},{"p":1,"c":"(45,52.5]","x":17.8,"y":1.8},{"p":1,"c":"(37.5,45]","x":18.0,"y":2.9},{"p":1,"c":"(22.5,30]","x":18.1,"y":3.7},{"p":1,"c":"(15,22.5]","x":18.3,"y":0.4},{"p":1,"c":"(30,37.5]","x":18.5,"y":1.5},{"p":1,"c":"(45,52.5]","x":18.8,"y":2.5},{"p":1,"c":"(22.5,30]","x":19.0,"y":0.9},{"p":1,"c":"(37.5,45]","x":19.3,"y":3.4},{"p":1,"c":"(15,22.5]","x":19.6,"y":1.2},{"p":1,"c":"(45,52.5]","x":19.9,"y":2.2},{"p":1,"c":"(30,37.5]","x":20.2,"y":0.5},{"p":1,"c":"(22.5,30]","x":20.5,"y":1.7},{"p":1,"c":"(45,52.5]","x":20.8,"y":2.9},{"p":1,"c":"(37.5,45]","x":21.1,"y":0.8},{"p":1,"c":"(15,22.5]","x":21.4,"y":3.8},{"p":1,"c":"(30,37.5]","x":21.7,"y":1.4},{"p":1,"c":"(45,52.5]","x":22.0,"y":2.4},{"p":1,"c":"(22.5,30]","x":22.3,"y":0.3},{"p":1,"c":"(37.5,45]","x":22.6,"y":1.9},{"p":1,"c":"(45,52.5]","x":22.9,"y":3.2},{"p":1,"c":"(15,22.5]","x":23.2,"y":0.7},{"p":1,"c":"(30,37.5]","x":23.6,"y":1.5},{"p":1,"c":"(45,52.5]","x":24.0,"y":2.7},{"p":1,"c":"(37.5,45]","x":24.4,"y":0.4},{"p":1,"c":"(22.5,30]","x":24.8,"y":1.2},{"p":1,"c":"(45,52.5]","x":25.2,"y":2.2},{"p":1,"c":"(37.5,45]","x":25.6,"y":3.6},{"p":1,"c":"(30,37.5]","x":26.0,"y":0.6},{"p":1,"c":"(45,52.5]","x":26.4,"y":1.8},{"p":1,"c":"(37.5,45]","x":26.8,"y":2.9},{"p":1,"c":"(15,22.5]","x":27.2,"y":0.9},{"p":1,"c":"(45,52.5]","x":27.6,"y":1.6},{"p":1,"c":"(30,37.5]","x":28.0,"y":2.5},{"p":1,"c":"(22.5,30]","x":28.4,"y":0.3},{"p":1,"c":"(45,52.5]","x":28.8,"y":1.4},{"p":1,"c":"(37.5,45]","x":29.3,"y":3.0},{"p":1,"c":"(30,37.5]","x":29.6,"y":0.8},{"p":1,"c":"(45,52.5]","x":30.1,"y":1.9},{"p":1,"c":"(15,22.5]","x":30.5,"y":0.4},{"p":1,"c":"(37.5,45]","x":31.0,"y":1.3},{"p":1,"c":"(45,52.5]","x":31.5,"y":2.6},{"p":1,"c":"(22.5,30]","x":32.0,"y":0.6},{"p":1,"c":"(30,37.5]","x":32.5,"y":1.7},{"p":1,"c":"(37.5,45]","x":33.0,"y":0.9},
      {"p":1,"c":"(37.5,45]","x":11.6,"y":0.6},{"p":1,"c":"(15,22.5]","x":12.1,"y":2.9},{"p":1,"c":"(30,37.5]","x":12.7,"y":0.2},{"p":1,"c":"(7.5,15]","x":13.0,"y":3.9},{"p":1,"c":"(45,52.5]","x":13.5,"y":0.8},{"p":1,"c":"(15,22.5]","x":14.1,"y":2.7},{"p":1,"c":"(37.5,45]","x":14.6,"y":0.5},{"p":1,"c":"(30,37.5]","x":15.1,"y":3.4},{"p":1,"c":"(22.5,30]","x":15.4,"y":1.4},{"p":1,"c":"(7.5,15]","x":15.9,"y":2.1},{"p":1,"c":"(45,52.5]","x":16.3,"y":0.9},{"p":1,"c":"(15,22.5]","x":16.9,"y":3.6},{"p":1,"c":"(37.5,45]","x":17.3,"y":1.0},{"p":1,"c":"(30,37.5]","x":17.7,"y":2.6},{"p":1,"c":"(22.5,30]","x":18.2,"y":1.9},{"p":1,"c":"(45,52.5]","x":18.6,"y":3.2},{"p":1,"c":"(7.5,15]","x":18.9,"y":0.2},{"p":1,"c":"(15,22.5]","x":19.4,"y":2.6},{"p":1,"c":"(37.5,45]","x":19.8,"y":0.6},{"p":1,"c":"(30,37.5]","x":20.4,"y":3.4},{"p":1,"c":"(15,22.5]","x":20.9,"y":1.1},{"p":1,"c":"(7.5,15]","x":21.3,"y":2.0},{"p":1,"c":"(22.5,30]","x":21.9,"y":0.5},{"p":1,"c":"(37.5,45]","x":22.4,"y":2.8},{"p":1,"c":"(45,52.5]","x":22.8,"y":1.3},{"p":1,"c":"(22.5,30]","x":23.4,"y":2.2},{"p":1,"c":"(30,37.5]","x":23.9,"y":0.3},{"p":1,"c":"(15,22.5]","x":24.6,"y":3.2},{"p":1,"c":"(45,52.5]","x":25.0,"y":0.7},{"p":1,"c":"(37.5,45]","x":25.8,"y":1.5},{"p":1,"c":"(22.5,30]","x":26.2,"y":2.6},{"p":1,"c":"(30,37.5]","x":27.0,"y":1.2},{"p":1,"c":"(45,52.5]","x":27.8,"y":3.3},{"p":1,"c":"(37.5,45]","x":28.6,"y":0.6},{"p":1,"c":"(22.5,30]","x":29.9,"y":2.3},{"p":1,"c":"(45,52.5]","x":30.8,"y":0.9},{"p":1,"c":"(37.5,45]","x":31.8,"y":1.9},{"p":1,"c":"(45,52.5]","x":31.5,"y":3.6},{"p":1,"c":"(22.5,30]","x":29.5,"y":4.0},{"p":1,"c":"(15,22.5]","x":18.0,"y":4.2},{"p":1,"c":"(30,37.5]","x":17.8,"y":0.3},{"p":1,"c":"(7.5,15]","x":12.3,"y":1.1},
      {"p":1,"c":"(15,22.5]","x":5.5,"y":3.0},{"p":1,"c":"(45,52.5]","x":6.2,"y":4.5},{"p":1,"c":"(15,22.5]","x":6.8,"y":2.2},{"p":1,"c":"(37.5,45]","x":7.5,"y":5.5},{"p":1,"c":"(22.5,30]","x":7.9,"y":3.3},{"p":1,"c":"(7.5,15]","x":8.3,"y":1.0},{"p":1,"c":"(30,37.5]","x":8.7,"y":4.0},{"p":1,"c":"(15,22.5]","x":9.0,"y":2.6},{"p":1,"c":"(37.5,45]","x":9.5,"y":3.8},{"p":1,"c":"(7.5,15]","x":9.8,"y":1.8},{"p":1,"c":"(30,37.5]","x":10.2,"y":5.5},{"p":1,"c":"(45,52.5]","x":10.5,"y":0.9},{"p":1,"c":"(22.5,30]","x":10.7,"y":3.2},{"p":1,"c":"(7.5,15]","x":2.0,"y":3.8},{"p":1,"c":"(7.5,15]","x":1.2,"y":6.8},{"p":1,"c":"(15,22.5]","x":2.5,"y":6.0},{"p":1,"c":"(45,52.5]","x":3.8,"y":5.2},{"p":1,"c":"(22.5,30]","x":4.8,"y":4.4},{"p":1,"c":"(7.5,15]","x":6.5,"y":1.2},{"p":1,"c":"(7.5,15]","x":7.2,"y":0.6},

      {"p":2,"c":"(7.5,15]","x":0.5,"y":8.0},{"p":2,"c":"(7.5,15]","x":1.6,"y":8.3},{"p":2,"c":"(15,22.5]","x":2.2,"y":7.0},{"p":2,"c":"(15,22.5]","x":2.6,"y":7.7},{"p":2,"c":"(15,22.5]","x":4.3,"y":7.1},{"p":2,"c":"(22.5,30]","x":4.8,"y":7.6},{"p":2,"c":"(22.5,30]","x":7.1,"y":7.6},{"p":2,"c":"(22.5,30]","x":9.6,"y":7.8},{"p":2,"c":"(22.5,30]","x":8.5,"y":8.9},{"p":2,"c":"(37.5,45]","x":9.4,"y":7.2},{"p":2,"c":"(30,37.5]","x":12.5,"y":6.5},{"p":2,"c":"(37.5,45]","x":17.3,"y":7.6},{"p":2,"c":"(37.5,45]","x":21.5,"y":6.9},{"p":2,"c":"(30,37.5]","x":16.2,"y":5.9},{"p":2,"c":"(37.5,45]","x":13.3,"y":5.9},{"p":2,"c":"(45,52.5]","x":14.5,"y":5.8},{"p":2,"c":"(22.5,30]","x":11.9,"y":5.4},{"p":2,"c":"(15,22.5]","x":10.5,"y":6.0},{"p":2,"c":"(22.5,30]","x":6.0,"y":5.7},{"p":2,"c":"(15,22.5]","x":3.2,"y":5.7},{"p":2,"c":"(15,22.5]","x":2.0,"y":5.2},{"p":2,"c":"(7.5,15]","x":1.1,"y":4.8},{"p":2,"c":"(7.5,15]","x":0.8,"y":1.5},{"p":2,"c":"(7.5,15]","x":1.9,"y":1.3},{"p":2,"c":"(15,22.5]","x":3.5,"y":2.0},{"p":2,"c":"(30,37.5]","x":4.2,"y":0.5},{"p":2,"c":"(15,22.5]","x":5.4,"y":2.3},{"p":2,"c":"(7.5,15]","x":7.5,"y":1.4},{"p":2,"c":"(7.5,15]","x":8.5,"y":0.4},{"p":2,"c":"(15,22.5]","x":6.5,"y":6.6},{"p":2,"c":"(45,52.5]","x":5.5,"y":4.8},{"p":2,"c":"(37.5,45]","x":3.9,"y":3.2},{"p":2,"c":"(45,52.5]","x":7.9,"y":4.4},{"p":2,"c":"(30,37.5]","x":9.1,"y":5.1},{"p":2,"c":"(15,22.5]","x":11.0,"y":4.6},
      {"p":2,"c":"(15,22.5]","x":8.2,"y":1.9},{"p":2,"c":"(30,37.5]","x":8.8,"y":3.0},{"p":2,"c":"(7.5,15]","x":9.3,"y":0.8},{"p":2,"c":"(22.5,30]","x":9.8,"y":2.4},{"p":2,"c":"(37.5,45]","x":10.2,"y":4.0},{"p":2,"c":"(45,52.5]","x":10.7,"y":1.3},{"p":2,"c":"(15,22.5]","x":11.2,"y":3.3},{"p":2,"c":"(7.5,15]","x":11.6,"y":0.4},{"p":2,"c":"(30,37.5]","x":12.0,"y":2.1},{"p":2,"c":"(22.5,30]","x":12.4,"y":4.3},{"p":2,"c":"(15,22.5]","x":12.8,"y":1.1},{"p":2,"c":"(45,52.5]","x":13.2,"y":3.0},{"p":2,"c":"(37.5,45]","x":13.6,"y":0.6},{"p":2,"c":"(22.5,30]","x":14.0,"y":2.6},{"p":2,"c":"(30,37.5]","x":14.4,"y":1.6},{"p":2,"c":"(15,22.5]","x":14.8,"y":3.6},{"p":2,"c":"(7.5,15]","x":15.2,"y":0.3},{"p":2,"c":"(45,52.5]","x":15.6,"y":2.2},{"p":2,"c":"(37.5,45]","x":16.0,"y":1.2},{"p":2,"c":"(22.5,30]","x":16.4,"y":3.2},{"p":2,"c":"(15,22.5]","x":16.8,"y":0.7},{"p":2,"c":"(30,37.5]","x":17.2,"y":2.0},{"p":2,"c":"(45,52.5]","x":17.6,"y":4.1},{"p":2,"c":"(22.5,30]","x":18.0,"y":1.0},{"p":2,"c":"(37.5,45]","x":18.4,"y":2.8},{"p":2,"c":"(15,22.5]","x":18.8,"y":0.4},{"p":2,"c":"(45,52.5]","x":19.2,"y":1.8},{"p":2,"c":"(30,37.5]","x":19.6,"y":3.5},{"p":2,"c":"(7.5,15]","x":20.0,"y":0.9},{"p":2,"c":"(22.5,30]","x":20.4,"y":2.5},{"p":2,"c":"(37.5,45]","x":20.8,"y":1.4},{"p":2,"c":"(45,52.5]","x":21.2,"y":0.5},{"p":2,"c":"(15,22.5]","x":21.6,"y":3.0},{"p":2,"c":"(30,37.5]","x":22.0,"y":1.7},{"p":2,"c":"(22.5,30]","x":22.4,"y":0.8},{"p":2,"c":"(45,52.5]","x":22.8,"y":2.3},{"p":2,"c":"(37.5,45]","x":23.2,"y":1.2},{"p":2,"c":"(45,52.5]","x":23.6,"y":3.4},{"p":2,"c":"(15,22.5]","x":24.0,"y":0.5},{"p":2,"c":"(22.5,30]","x":24.4,"y":1.9},{"p":2,"c":"(37.5,45]","x":24.8,"y":2.8},{"p":2,"c":"(30,37.5]","x":25.2,"y":0.9},{"p":2,"c":"(45,52.5]","x":25.8,"y":1.5},{"p":2,"c":"(22.5,30]","x":26.4,"y":2.6},{"p":2,"c":"(15,22.5]","x":27.0,"y":0.6},{"p":2,"c":"(37.5,45]","x":27.6,"y":1.8},{"p":2,"c":"(45,52.5]","x":28.2,"y":3.1},{"p":2,"c":"(30,37.5]","x":28.8,"y":1.0},{"p":2,"c":"(22.5,30]","x":29.4,"y":2.0},{"p":2,"c":"(15,22.5]","x":30.0,"y":4.0},{"p":2,"c":"(45,52.5]","x":30.0,"y":0.5},{"p":2,"c":"(37.5,45]","x":31.0,"y":1.4},{"p":2,"c":"(45,52.5]","x":32.0,"y":2.4},{"p":2,"c":"(45,52.5]","x":33.0,"y":3.3},{"p":2,"c":"(30,37.5]","x":33.5,"y":0.8},{"p":2,"c":"(30,37.5]","x":34.0,"y":2.8},{"p":2,"c":"(37.5,45]","x":34.0,"y":4.1},{"p":2,"c":"(22.5,30]","x":35.5,"y":1.2},{"p":2,"c":"(37.5,45]","x":38.0,"y":4.3},{"p":2,"c":"(45,52.5]","x":38.5,"y":3.2},{"p":2,"c":"(30,37.5]","x":39.0,"y":1.0},{"p":2,"c":"(15,22.5]","x":41.0,"y":0.6},{"p":2,"c":"(22.5,30]","x":43.0,"y":0.3},{"p":2,"c":"(30,37.5]","x":50.5,"y":0.6},{"p":2,"c":"(45,52.5]","x":51.5,"y":0.9},
      {"p":2,"c":"(15,22.5]","x":8.6,"y":0.7},{"p":2,"c":"(30,37.5]","x":9.0,"y":2.1},{"p":2,"c":"(22.5,30]","x":9.5,"y":3.6},{"p":2,"c":"(37.5,45]","x":10.0,"y":0.3},{"p":2,"c":"(45,52.5]","x":10.4,"y":1.8},{"p":2,"c":"(7.5,15]","x":10.9,"y":2.9},{"p":2,"c":"(30,37.5]","x":11.4,"y":1.0},{"p":2,"c":"(45,52.5]","x":11.8,"y":3.8},{"p":2,"c":"(37.5,45]","x":12.2,"y":0.6},{"p":2,"c":"(15,22.5]","x":12.6,"y":2.5},{"p":2,"c":"(22.5,30]","x":13.0,"y":1.7},{"p":2,"c":"(30,37.5]","x":13.4,"y":3.5},{"p":2,"c":"(45,52.5]","x":13.8,"y":0.4},{"p":2,"c":"(7.5,15]","x":14.2,"y":1.3},{"p":2,"c":"(37.5,45]","x":14.6,"y":2.9},{"p":2,"c":"(22.5,30]","x":15.0,"y":0.9},{"p":2,"c":"(15,22.5]","x":15.4,"y":1.9},{"p":2,"c":"(45,52.5]","x":15.8,"y":3.3},{"p":2,"c":"(30,37.5]","x":16.2,"y":0.5},{"p":2,"c":"(37.5,45]","x":16.6,"y":2.5},{"p":2,"c":"(7.5,15]","x":17.0,"y":1.4},{"p":2,"c":"(22.5,30]","x":17.4,"y":0.3},{"p":2,"c":"(15,22.5]","x":17.8,"y":3.0},{"p":2,"c":"(45,52.5]","x":18.2,"y":1.6},{"p":2,"c":"(30,37.5]","x":18.6,"y":0.8},{"p":2,"c":"(37.5,45]","x":19.0,"y":2.3},{"p":2,"c":"(22.5,30]","x":19.4,"y":0.5},{"p":2,"c":"(15,22.5]","x":19.8,"y":1.3},{"p":2,"c":"(45,52.5]","x":20.2,"y":3.1},{"p":2,"c":"(30,37.5]","x":20.6,"y":0.6},{"p":2,"c":"(37.5,45]","x":21.0,"y":2.0},{"p":2,"c":"(22.5,30]","x":21.4,"y":1.1},{"p":2,"c":"(7.5,15]","x":21.8,"y":0.3},{"p":2,"c":"(15,22.5]","x":22.2,"y":2.7},{"p":2,"c":"(30,37.5]","x":22.6,"y":1.4},{"p":2,"c":"(45,52.5]","x":23.0,"y":0.6},{"p":2,"c":"(37.5,45]","x":23.4,"y":2.0},{"p":2,"c":"(22.5,30]","x":23.8,"y":1.0},{"p":2,"c":"(30,37.5]","x":24.2,"y":0.4},{"p":2,"c":"(45,52.5]","x":24.6,"y":1.6},

      {"p":3,"c":"(7.5,15]","x":0.3,"y":4.9},{"p":3,"c":"(7.5,15]","x":0.8,"y":7.3},{"p":3,"c":"(7.5,15]","x":1.2,"y":7.3},{"p":3,"c":"(15,22.5]","x":2.1,"y":7.1},{"p":3,"c":"(22.5,30]","x":3.8,"y":7.0},{"p":3,"c":"(7.5,15]","x":4.2,"y":6.5},{"p":3,"c":"(22.5,30]","x":5.5,"y":8.3},{"p":3,"c":"(37.5,45]","x":5.3,"y":7.3},{"p":3,"c":"(22.5,30]","x":5.8,"y":6.9},{"p":3,"c":"(7.5,15]","x":9.0,"y":8.5},{"p":3,"c":"(15,22.5]","x":8.6,"y":5.8},{"p":3,"c":"(22.5,30]","x":8.2,"y":6.4},{"p":3,"c":"(15,22.5]","x":10.3,"y":5.8},{"p":3,"c":"(15,22.5]","x":11.2,"y":5.5},{"p":3,"c":"(37.5,45]","x":14.5,"y":7.4},{"p":3,"c":"(22.5,30]","x":16.5,"y":7.4},{"p":3,"c":"(37.5,45]","x":16.7,"y":6.2},{"p":3,"c":"(30,37.5]","x":13.0,"y":5.0},{"p":3,"c":"(45,52.5]","x":12.2,"y":4.8},{"p":3,"c":"(45,52.5]","x":16.2,"y":5.3},{"p":3,"c":"(45,52.5]","x":17.2,"y":5.1},{"p":3,"c":"(30,37.5]","x":18.0,"y":4.6},{"p":3,"c":"(37.5,45]","x":19.3,"y":4.6},{"p":3,"c":"(30,37.5]","x":17.5,"y":4.2},{"p":3,"c":"(45,52.5]","x":21.1,"y":3.9},{"p":3,"c":"(30,37.5]","x":22.8,"y":3.4},{"p":3,"c":"(45,52.5]","x":28.8,"y":3.0},{"p":3,"c":"(37.5,45]","x":28.8,"y":2.3},{"p":3,"c":"(15,22.5]","x":32.4,"y":2.2},{"p":3,"c":"(7.5,15]","x":1.5,"y":2.0},{"p":3,"c":"(30,37.5]","x":2.5,"y":0.8},{"p":3,"c":"(7.5,15]","x":3.0,"y":3.5},{"p":3,"c":"(7.5,15]","x":4.5,"y":1.5},{"p":3,"c":"(15,22.5]","x":6.0,"y":5.2},{"p":3,"c":"(30,37.5]","x":6.8,"y":4.6},{"p":3,"c":"(15,22.5]","x":7.5,"y":2.2},{"p":3,"c":"(15,22.5]","x":1.0,"y":5.8},
      {"p":3,"c":"(7.5,15]","x":7.2,"y":1.2},{"p":3,"c":"(15,22.5]","x":7.6,"y":3.8},{"p":3,"c":"(7.5,15]","x":8.0,"y":0.6},{"p":3,"c":"(30,37.5]","x":8.4,"y":2.5},{"p":3,"c":"(22.5,30]","x":8.8,"y":1.7},{"p":3,"c":"(37.5,45]","x":9.2,"y":3.4},{"p":3,"c":"(45,52.5]","x":9.6,"y":0.4},{"p":3,"c":"(7.5,15]","x":10.0,"y":2.1},{"p":3,"c":"(15,22.5]","x":10.4,"y":3.9},{"p":3,"c":"(30,37.5]","x":10.8,"y":1.3},{"p":3,"c":"(15,22.5]","x":11.2,"y":0.3},{"p":3,"c":"(22.5,30]","x":11.6,"y":2.8},{"p":3,"c":"(7.5,15]","x":12.0,"y":1.6},{"p":3,"c":"(37.5,45]","x":12.4,"y":3.6},{"p":3,"c":"(30,37.5]","x":12.8,"y":0.7},{"p":3,"c":"(45,52.5]","x":13.2,"y":2.3},{"p":3,"c":"(7.5,15]","x":13.6,"y":1.1},{"p":3,"c":"(15,22.5]","x":14.0,"y":3.2},{"p":3,"c":"(22.5,30]","x":14.4,"y":0.5},{"p":3,"c":"(30,37.5]","x":14.8,"y":1.9},{"p":3,"c":"(37.5,45]","x":15.2,"y":2.9},{"p":3,"c":"(15,22.5]","x":15.6,"y":0.9},{"p":3,"c":"(22.5,30]","x":16.0,"y":3.9},{"p":3,"c":"(7.5,15]","x":16.4,"y":1.5},{"p":3,"c":"(45,52.5]","x":16.8,"y":2.6},{"p":3,"c":"(30,37.5]","x":17.2,"y":0.4},{"p":3,"c":"(15,22.5]","x":17.6,"y":1.8},{"p":3,"c":"(37.5,45]","x":18.0,"y":3.3},{"p":3,"c":"(22.5,30]","x":18.4,"y":0.8},{"p":3,"c":"(30,37.5]","x":18.8,"y":2.2},{"p":3,"c":"(45,52.5]","x":19.2,"y":1.2},{"p":3,"c":"(7.5,15]","x":19.6,"y":0.3},{"p":3,"c":"(15,22.5]","x":20.0,"y":2.7},{"p":3,"c":"(22.5,30]","x":20.5,"y":1.6},{"p":3,"c":"(37.5,45]","x":21.0,"y":0.7},{"p":3,"c":"(30,37.5]","x":21.5,"y":3.0},{"p":3,"c":"(45,52.5]","x":22.0,"y":1.3},{"p":3,"c":"(15,22.5]","x":22.5,"y":0.4},{"p":3,"c":"(22.5,30]","x":23.0,"y":2.1},{"p":3,"c":"(30,37.5]","x":23.5,"y":1.0},{"p":3,"c":"(37.5,45]","x":24.0,"y":2.6},{"p":3,"c":"(45,52.5]","x":24.5,"y":0.5},{"p":3,"c":"(15,22.5]","x":25.0,"y":1.7},{"p":3,"c":"(30,37.5]","x":25.5,"y":2.3},{"p":3,"c":"(22.5,30]","x":26.0,"y":0.8},{"p":3,"c":"(45,52.5]","x":26.5,"y":1.4},{"p":3,"c":"(37.5,45]","x":27.0,"y":2.8},{"p":3,"c":"(15,22.5]","x":27.5,"y":0.6},{"p":3,"c":"(30,37.5]","x":28.0,"y":1.9},{"p":3,"c":"(22.5,30]","x":28.5,"y":1.1},{"p":3,"c":"(37.5,45]","x":29.0,"y":2.6},{"p":3,"c":"(7.5,15]","x":29.0,"y":0.3},{"p":3,"c":"(22.5,30]","x":28.9,"y":1.4},
      {"p":3,"c":"(30,37.5]","x":7.4,"y":0.9},{"p":3,"c":"(7.5,15]","x":7.8,"y":2.7},{"p":3,"c":"(37.5,45]","x":8.2,"y":1.4},{"p":3,"c":"(15,22.5]","x":8.6,"y":0.3},{"p":3,"c":"(45,52.5]","x":9.0,"y":2.3},{"p":3,"c":"(7.5,15]","x":9.4,"y":1.0},{"p":3,"c":"(22.5,30]","x":9.8,"y":3.0},{"p":3,"c":"(15,22.5]","x":10.2,"y":0.7},{"p":3,"c":"(37.5,45]","x":10.6,"y":2.0},{"p":3,"c":"(7.5,15]","x":11.0,"y":1.1},{"p":3,"c":"(30,37.5]","x":11.4,"y":3.3},{"p":3,"c":"(45,52.5]","x":11.8,"y":0.5},{"p":3,"c":"(22.5,30]","x":12.2,"y":1.9},{"p":3,"c":"(15,22.5]","x":12.6,"y":2.9},{"p":3,"c":"(7.5,15]","x":13.0,"y":0.4},{"p":3,"c":"(37.5,45]","x":13.4,"y":1.6},{"p":3,"c":"(30,37.5]","x":13.8,"y":2.6},{"p":3,"c":"(45,52.5]","x":14.2,"y":0.9},{"p":3,"c":"(15,22.5]","x":14.6,"y":1.3},{"p":3,"c":"(7.5,15]","x":15.0,"y":2.4},{"p":3,"c":"(22.5,30]","x":15.4,"y":0.5},{"p":3,"c":"(30,37.5]","x":15.8,"y":1.7},{"p":3,"c":"(37.5,45]","x":16.2,"y":3.0},{"p":3,"c":"(15,22.5]","x":16.6,"y":0.8},{"p":3,"c":"(45,52.5]","x":17.0,"y":2.0},{"p":3,"c":"(22.5,30]","x":17.4,"y":1.1},{"p":3,"c":"(7.5,15]","x":17.8,"y":0.3},{"p":3,"c":"(15,22.5]","x":18.2,"y":2.5},{"p":3,"c":"(37.5,45]","x":18.6,"y":1.4},{"p":3,"c":"(30,37.5]","x":19.0,"y":0.6},{"p":3,"c":"(22.5,30]","x":19.4,"y":1.9},{"p":3,"c":"(45,52.5]","x":19.8,"y":0.9},{"p":3,"c":"(37.5,45]","x":20.3,"y":2.3},{"p":3,"c":"(15,22.5]","x":20.8,"y":0.4},{"p":3,"c":"(30,37.5]","x":21.3,"y":1.2},{"p":3,"c":"(22.5,30]","x":21.8,"y":2.4},{"p":3,"c":"(7.5,15]","x":22.3,"y":0.8},{"p":3,"c":"(45,52.5]","x":23.3,"y":1.6},{"p":3,"c":"(22.5,30]","x":24.3,"y":0.9},{"p":3,"c":"(15,22.5]","x":25.3,"y":2.0},{"p":3,"c":"(37.5,45]","x":26.3,"y":0.5},{"p":3,"c":"(30,37.5]","x":27.3,"y":1.5},{"p":3,"c":"(45,52.5]","x":28.3,"y":0.6}
    ]
  },
  "vconcat": [
    {"spacing": 0, "hconcat": [
      {"width": 1, "height": 1, "data": {"name": "S"}, "mark": {"type": "text"}, "encoding": {"text": {"field": "t"}}, "view": {"stroke": null}},
      {
      "title": {"text": "Pure Douglas-fir Stands"},
      "width": 1000, "height": 302,
      "layer": [
        {"data": {"name": "P"}, "transform": [{"filter": "datum.p == 1"}],
         "mark": {"type": "circle", "opacity": 0.22, "size": 45, "clip": true},
         "encoding": {
           "x": {"field": "x", "type": "quantitative", "scale": {"domain": [-1.8, 52.55], "nice": false, "zero": false}, "axis": {"title": "Foliage mass(T/ha)", "values": [0,10,20,30,40,50], "format": "d"}},
           "y": {"field": "y", "type": "quantitative", "scale": {"domain": [-0.27, 8.91], "nice": false, "zero": false}, "axis": {"title": "5-year growth(cm)", "values": [0,2,4,6,8], "format": "d"}},
           "color": {"field": "c", "type": "nominal", "scale": {"domain": ["(15,22.5]","(22.5,30]","(30,37.5]","(37.5,45]","(45,52.5]","(7.5,15]"], "range": ["#E41A1C","#377EB8","#4DAF4A","#984EA3","#FF7F00","#FFFF33"]},
             "legend": {"title": "CD", "orient": "none", "legendX": 133, "legendY": 1337, "direction": "horizontal", "titleOrient": "left", "titleFontSize": 16, "titleFontWeight": "bold", "titleColor": "#1a1a1a", "titlePadding": 18, "titleBaseline": "middle", "symbolType": "stroke", "symbolSize": 961, "symbolStrokeWidth": 3.5, "symbolDash": [22, 6], "symbolOpacity": 1, "labelFontSize": 22, "labelColor": "#1a1a1a", "labelOffset": 2, "columnPadding": 10, "labelFont": "Liberation Sans", "titleFont": "Liberation Sans",
               "encode": {"symbols": {"update": {"opacity": {"value": 1}, "strokeOpacity": {"value": 1}}}}}}
         }},
        {"data": {"name": "L"}, "transform": [{"filter": "datum.p == 1"}],
         "mark": {"type": "line", "strokeDash": [13, 13], "strokeWidth": 3, "clip": true},
         "encoding": {
           "x": {"field": "x", "type": "quantitative"},
           "y": {"field": "y", "type": "quantitative"},
           "color": {"field": "c", "type": "nominal"},
           "order": {"field": "x", "type": "quantitative"}
         }}
      ]
    }]},
    {"spacing": 0, "hconcat": [
      {"width": 1, "height": 1, "data": {"name": "S"}, "mark": {"type": "text"}, "encoding": {"text": {"field": "t"}}, "view": {"stroke": null}},
      {
      "title": {"text": "Mixed-conifer Stands"},
      "width": 984, "height": 301,
      "layer": [
        {"data": {"name": "P"}, "transform": [{"filter": "datum.p == 2"}],
         "mark": {"type": "circle", "opacity": 0.22, "size": 45, "clip": true},
         "encoding": {
           "x": {"field": "x", "type": "quantitative", "scale": {"domain": [-2.1, 53.6], "nice": false, "zero": false}, "axis": {"title": "Foliage mass(T/ha)", "values": [0,10,20,30,40,50], "format": "d"}},
           "y": {"field": "y", "type": "quantitative", "scale": {"domain": [-0.32, 9.33], "nice": false, "zero": false}, "axis": {"title": "5-year growth(cm)", "values": [0,2.5,5,7.5], "format": ".1f", "labelPadding": 9}},
           "color": {"field": "c", "type": "nominal"}
         }},
        {"data": {"name": "L"}, "transform": [{"filter": "datum.p == 2"}],
         "mark": {"type": "line", "strokeDash": [13, 13], "strokeWidth": 3, "clip": true},
         "encoding": {
           "x": {"field": "x", "type": "quantitative"},
           "y": {"field": "y", "type": "quantitative"},
           "color": {"field": "c", "type": "nominal"},
           "order": {"field": "x", "type": "quantitative"}
         }}
      ]
    }]},
    {"spacing": 0, "hconcat": [
      {"width": 1, "height": 1, "data": {"name": "S"}, "mark": {"type": "text"}, "encoding": {"text": {"field": "t"}}, "view": {"stroke": null}},
      {
      "title": {"text": "Mixed-hardwood stands"},
      "width": 1000, "height": 301,
      "layer": [
        {"data": {"name": "P"}, "transform": [{"filter": "datum.p == 3"}],
         "mark": {"type": "circle", "opacity": 0.22, "size": 45, "clip": true},
         "encoding": {
           "x": {"field": "x", "type": "quantitative", "scale": {"domain": [-1.17, 34.17], "nice": false, "zero": false}, "axis": {"title": "Foliage mass(T/ha)", "values": [0,10,20,30], "format": "d"}},
           "y": {"field": "y", "type": "quantitative", "scale": {"domain": [-0.24, 8.85], "nice": false, "zero": false}, "axis": {"title": "5-year growth(cm)", "values": [0,2,4,6,8], "format": "d"}},
           "color": {"field": "c", "type": "nominal"}
         }},
        {"data": {"name": "L"}, "transform": [{"filter": "datum.p == 3"}],
         "mark": {"type": "line", "strokeDash": [13, 13], "strokeWidth": 3, "clip": true},
         "encoding": {
           "x": {"field": "x", "type": "quantitative"},
           "y": {"field": "y", "type": "quantitative"},
           "color": {"field": "c", "type": "nominal"},
           "order": {"field": "x", "type": "quantitative"}
         }}
      ]
    }]}
  ]
}
